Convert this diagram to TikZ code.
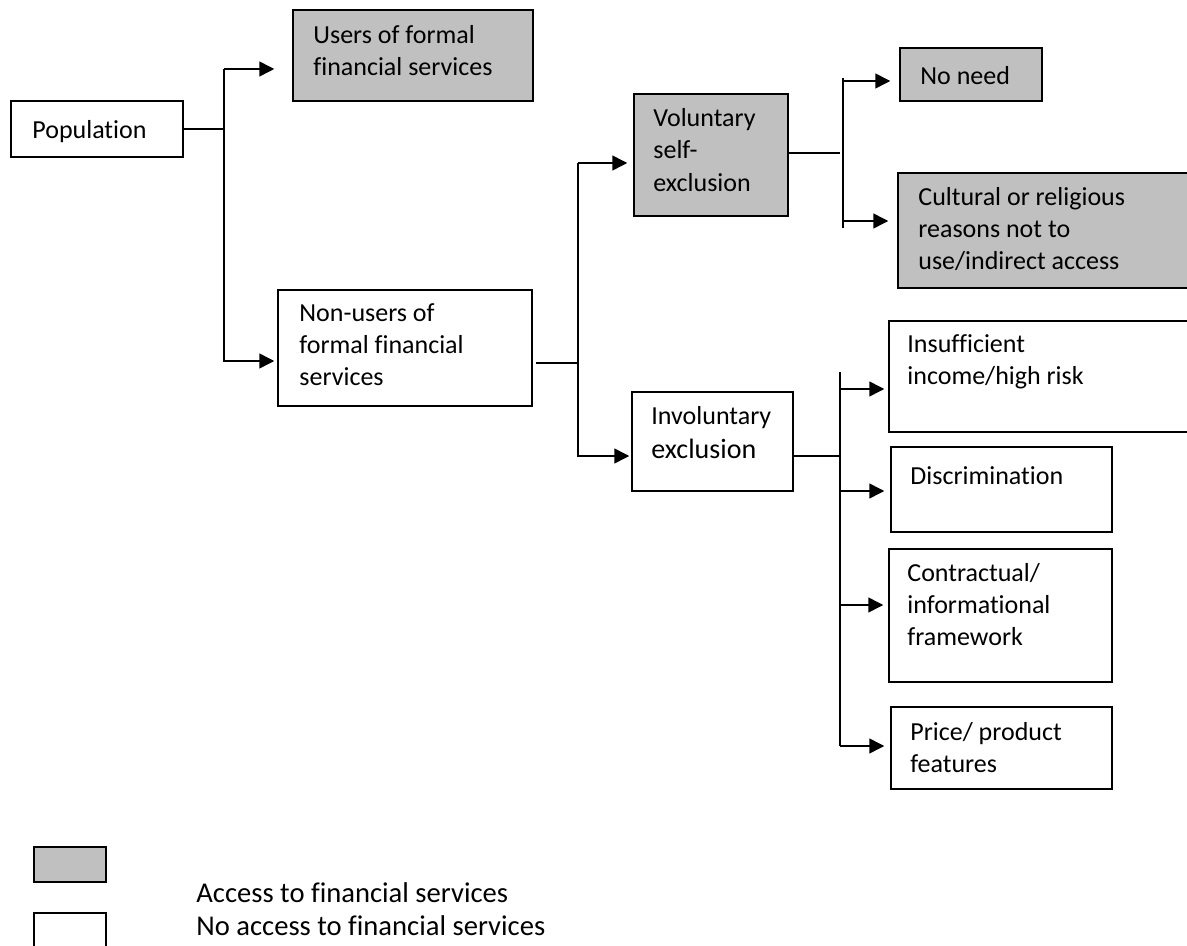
\documentclass[tikz,border=0pt]{standalone}
\usepackage{fontspec}
\setmainfont{Carlito}[Ligatures=NoCommon]
\usetikzlibrary{arrows.meta}
\definecolor{boxgray}{RGB}{192,192,192}
\begin{document}
\begin{tikzpicture}[x=0.5pt,y=-0.5pt,
  box/.style={draw, line width=0.75pt, rectangle, inner sep=0pt},
  graybox/.style={box, fill=boxgray},
  txt/.style={anchor=north west, inner sep=0pt, align=left,
    font=\fontsize{13}{16}\selectfont, execute at begin node=\strut},
  legtxt/.style={anchor=base west, inner sep=0pt,
    font=\fontsize{14.3}{17}\selectfont},
  link/.style={draw, line width=0.75pt},
  arr/.style={draw, line width=0.75pt, -{Triangle[length=7.5pt,width=7.5pt]}}]
\useasboundingbox (0,0) rectangle (1187,946);
\clip (0,0) rectangle (1187,946);

% boxes
\node[box, minimum width=86pt, minimum height=28pt] (pop) at (97,129) {};
\node[graybox, minimum width=120pt, minimum height=45.5pt] (users) at (413,55.5) {};
\node[box, minimum width=127pt, minimum height=58pt] (nonusers) at (405,348) {};
\node[graybox, minimum width=77pt, minimum height=61pt] (vol) at (711,155) {};
\node[graybox, minimum width=71pt, minimum height=26.5pt] (noneed) at (971,74.5) {};
\node[graybox, minimum width=151pt, minimum height=57.5pt] (cult) at (1049,230.5) {};
\node[box, minimum width=80.5pt, minimum height=49.5pt] (invol) at (712.5,441.5) {};
\node[box, minimum width=155.5pt, minimum height=55.5pt] (insuf) at (1044.5,376.5) {};
\node[box, minimum width=110.5pt, minimum height=42.5pt] (disc) at (1001.5,489.5) {};
\node[box, minimum width=111.5pt, minimum height=66.5pt] (contr) at (1000.5,615.5) {};
\node[box, minimum width=110.5pt, minimum height=41pt] (price) at (1001.5,748) {};
\node[graybox, minimum width=36pt, minimum height=17.5pt] (leg1) at (70,864.5) {};
\node[box, minimum width=36pt, minimum height=23.5pt] (leg2) at (70,936.5) {};

% texts
\node[txt] (tpop) at (32,115.6) {Population};
\node[txt] (tusers) at (313,24.6) {Users of formal\\financial services};
\node[txt] (tnonusers) at (299,303.6) {Non-users of\\formal financial\\services};
\node[txt] (tvol) at (653,107.6) {Voluntary\\[0.25pt]self-\\[0.25pt]exclusion};
\node[txt] (tnoneed) at (920,61.6) {No need};
\node[txt] (tcult) at (918,186.6) {Cultural or religious\\reasons not to\\use/indirect access};
\node[txt] (tinvol) at (651,405.6) {Involuntary\\[1pt]{\fontsize{14}{16}\selectfont exclusion}};
\node[txt] (tinsuf) at (907,334.6) {Insufficient\\income/high risk};
\node[txt] (tdisc) at (910,461.6) {Discrimination};
\node[txt] (tcontr) at (907,562.6) {Contractual/\\informational\\framework};
\node[txt] (tprice) at (910,721.6) {Price/ product\\features};
\node[legtxt] (tleg1) at (196,902) {Access to financial services};
\node[legtxt] (tleg2) at (196,935) {No access to financial services};

% junction coordinates
\coordinate (p1) at (224,69);
\coordinate (p2) at (224,361);
\coordinate (qm) at (578,363);
\coordinate (q1) at (578,163);
\coordinate (q2) at (578,456);
\coordinate (rm) at (840,153);
\coordinate (r0) at (843,78);
\coordinate (r1) at (843,81);
\coordinate (r2) at (843,221);
\coordinate (r3) at (843,228);
\coordinate (sm) at (841,456);
\coordinate (s0) at (840,372);
\coordinate (s1) at (840,389);
\coordinate (s2) at (840,491);
\coordinate (s3) at (840,605);
\coordinate (s4) at (840,746);

% connectors: population
\draw[link] (pop.east) -- (pop.east -| p1);
\draw[arr, shorten >=9pt] (p1) -- (users.west |- p1);
\draw[arr, shorten >=1.5pt] (p1) -- (p2) -- (nonusers.west |- p2);

% non-users
\draw[link, shorten <=1.5pt] (nonusers.east |- qm) -- (qm);
\draw[arr, shorten >=3pt] (q1) -- (vol.west |- q1);
\draw[arr, shorten >=1pt] (q1) -- (q2) -- (invol.west |- q2);

% voluntary
\draw[link] (vol.east |- rm) -- (rm);
\draw[link] (r0) -- (r3);
\draw[arr, shorten >=4.5pt] (r1) -- (noneed.west |- r1);
\draw[arr, shorten >=4.5pt] (r2) -- (cult.west |- r2);

% involuntary
\draw[link] (invol.east |- sm) -- (sm);
\draw[link] (s0) -- (s4);
\draw[arr, shorten >=2pt] (s1) -- (insuf.west |- s1);
\draw[arr, shorten >=3pt] (s2) -- (disc.west |- s2);
\draw[arr, shorten >=2.5pt] (s3) -- (contr.west |- s3);
\draw[arr, shorten >=3pt] (s4) -- (price.west |- s4);
\end{tikzpicture}
\end{document}
